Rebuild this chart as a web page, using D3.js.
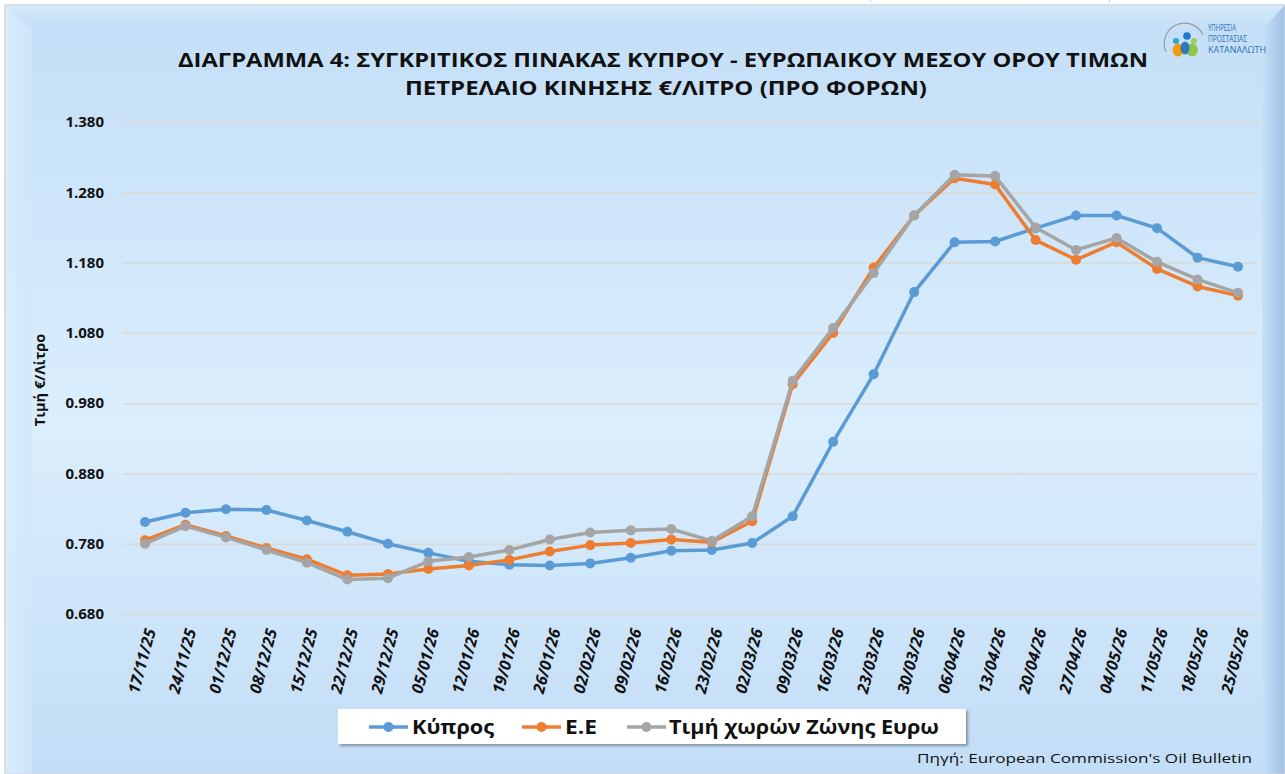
<!DOCTYPE html>
<html><head><meta charset="utf-8">
<script src="https://cdn.jsdelivr.net/npm/d3@7"></script>
<style>
html,body{margin:0;padding:0;background:#fff;}
svg{display:block;}
text{font-family:"Open Sans","Noto Sans",sans-serif;}
</style></head>
<body>
<svg id="c" width="1285" height="774"></svg>
<script>
const dates = ["17/11/25","24/11/25","01/12/25","08/12/25","15/12/25","22/12/25","29/12/25","05/01/26","12/01/26","19/01/26","26/01/26","02/02/26","09/02/26","16/02/26","23/02/26","02/03/26","09/03/26","16/03/26","23/03/26","30/03/26","06/04/26","13/04/26","20/04/26","27/04/26","04/05/26","11/05/26","18/05/26","25/05/26"];
const cyprus = [0.811,0.824,0.829,0.828,0.813,0.797,0.780,0.767,0.755,0.750,0.749,0.752,0.760,0.770,0.771,0.781,0.819,0.925,1.021,1.138,1.209,1.210,1.229,1.247,1.247,1.229,1.187,1.174];
const eu = [0.785,0.807,0.791,0.774,0.758,0.735,0.737,0.744,0.749,0.757,0.769,0.778,0.781,0.786,0.782,0.812,1.007,1.080,1.173,1.247,1.300,1.291,1.212,1.184,1.209,1.171,1.146,1.133];
const euroZone = [0.780,0.805,0.789,0.771,0.753,0.729,0.731,0.755,0.761,0.771,0.786,0.796,0.799,0.801,0.784,0.819,1.012,1.087,1.165,1.247,1.305,1.303,1.230,1.198,1.215,1.181,1.156,1.137];
const yTicks = [0.680,0.780,0.880,0.980,1.080,1.180,1.280,1.380];
const seriesNames = ["Κύπρος","Ε.Ε","Τιμή χωρών Ζώνης Ευρω"];
const colors = ["#5b9bd5","#ed7d31","#a5a5a5"];
const titleLines = ["ΔΙΑΓΡΑΜΜΑ 4: ΣΥΓΚΡΙΤΙΚΟΣ ΠΙΝΑΚΑΣ ΚΥΠΡΟΥ - ΕΥΡΩΠΑΙΚΟΥ ΜΕΣΟΥ ΟΡΟΥ ΤΙΜΩΝ","ΠΕΤΡΕΛΑΙΟ ΚΙΝΗΣΗΣ €/ΛΙΤΡΟ (ΠΡΟ ΦΟΡΩΝ)"];
const yTitle = "Τιμή €/Λίτρο";
const source = "Πηγή: European Commission's Oil Bulletin";
const logoLines = ["ΥΠΗΡΕΣΙΑ","ΠΡΟΣΤΑΣΙΑΣ","ΚΑΤΑΝΑΛΩΤΗ"];

const svg = d3.select("#c");
const defs = svg.append("defs");
const bg = defs.append("linearGradient").attr("id","bg").attr("x1",0).attr("y1",0).attr("x2",0).attr("y2",1);
bg.append("stop").attr("offset","0%").attr("stop-color","#c3def7");
bg.append("stop").attr("offset","55%").attr("stop-color","#dbeefd");
bg.append("stop").attr("offset","100%").attr("stop-color","#c2ddf6");
const rg = defs.append("linearGradient").attr("id","rb").attr("x1",0).attr("y1",0).attr("x2",1).attr("y2",0);
rg.append("stop").attr("offset","0%").attr("stop-color","#c6e0f7");
rg.append("stop").attr("offset","100%").attr("stop-color","#9fc2e4");
const lg = defs.append("linearGradient").attr("id","lb").attr("x1",0).attr("y1",0).attr("x2",1).attr("y2",0);
lg.append("stop").attr("offset","0%").attr("stop-color","#dcedfb");
lg.append("stop").attr("offset","100%").attr("stop-color","#cfe6fa");
const tg = defs.append("linearGradient").attr("id","tb").attr("x1",0).attr("y1",0).attr("x2",0).attr("y2",1);
tg.append("stop").attr("offset","0%").attr("stop-color","#d6eafb");
tg.append("stop").attr("offset","100%").attr("stop-color","#c4dff7");
const sh = defs.append("filter").attr("id","sh").attr("x","-5%").attr("y","-20%").attr("width","110%").attr("height","150%");
sh.append("feDropShadow").attr("dx",2).attr("dy",2).attr("stdDeviation",1.5).attr("flood-color","#000").attr("flood-opacity",0.35);

// frame
svg.append("rect").attr("x",5).attr("y",5).attr("width",1280).attr("height",769).attr("fill","url(#bg)").attr("stroke","#d0d0d0");
svg.append("polygon").attr("points","5,5 1285,5 1262,30 32,30").attr("fill","url(#tb)").attr("opacity",0.9);
svg.append("polygon").attr("points","5,5 32,30 32,774 5,774").attr("fill","url(#lb)").attr("opacity",0.9);
svg.append("polygon").attr("points","1262,30 1285,5 1285,774 1262,774").attr("fill","url(#rb)");
svg.append("rect").attr("x",5).attr("y",5).attr("width",1280).attr("height",769).attr("fill","none").attr("stroke","#d6d6d6").attr("stroke-width",1);
svg.append("line").attr("x1",870).attr("x2",1110).attr("y1",1).attr("y2",1).attr("stroke","#9cc3e6").attr("stroke-width",1.5).attr("stroke-dasharray","1,238,1");

const x = d3.scalePoint().domain(dates).range([145,1238]);
const y = d3.scaleLinear().domain([0.68,1.38]).range([614,122]);

// gridlines + y labels
const yAxis = d3.axisLeft(y).tickValues(yTicks).tickFormat(d3.format(".3f")).tickSize(-(1258-123)).tickPadding(19);
const ga = svg.append("g").attr("transform","translate(123,0)").call(yAxis);
ga.select(".domain").remove();
ga.selectAll(".tick line").attr("stroke","#dcd8d2").attr("stroke-width",1.5);
ga.selectAll(".tick text").attr("font-size",15).attr("font-weight","bold").attr("fill","#111").attr("font-family","Open Sans");

// x labels
const xAxis = d3.axisBottom(x).tickSize(0).tickPadding(0);
const gx = svg.append("g").attr("transform","translate(0,626)").call(xAxis);
gx.select(".domain").remove();
gx.selectAll(".tick text")
  .attr("font-size",16).attr("font-weight","bold").attr("font-style","italic").attr("fill","#111")
  .attr("font-family","Open Sans")
  .attr("text-anchor","end").attr("dy","0.35em")
  .attr("transform","translate(5,3) rotate(-75)");

// lines
const allSeries = [cyprus, eu, euroZone];
const line = d3.line().x((d,i)=>x(dates[i])).y(d=>y(d));
[0,1,2].forEach(k=>{
  const data = allSeries[k];
  svg.append("path").datum(data).attr("d",line).attr("fill","none")
    .attr("stroke",colors[k]).attr("stroke-width",3.5).attr("stroke-linejoin","round");
  svg.append("g").selectAll("circle").data(data).join("circle")
    .attr("cx",(d,i)=>x(dates[i])).attr("cy",d=>y(d)).attr("r",5).attr("fill",colors[k]);
});

// title
const tt = svg.append("g");
tt.append("text").attr("x",663).attr("y",67).attr("text-anchor","middle").attr("font-size",19).attr("font-weight","bold")
  .attr("fill","#111").attr("textLength",970).attr("lengthAdjust","spacingAndGlyphs").text(titleLines[0]);
tt.append("text").attr("x",666).attr("y",95).attr("text-anchor","middle").attr("font-size",19).attr("font-weight","bold")
  .attr("fill","#111").attr("textLength",522).attr("lengthAdjust","spacingAndGlyphs").text(titleLines[1]);

// y title
svg.append("text").attr("transform","translate(45,380) rotate(-90)").attr("text-anchor","middle")
  .attr("font-size",14.5).attr("font-weight","bold").attr("fill","#111").text(yTitle);

// legend
const lgG = svg.append("g");
lgG.append("rect").attr("x",338).attr("y",709).attr("width",628).attr("height",35).attr("fill","#fff").attr("filter","url(#sh)");
const legX = [369, 522, 627];
const legTextX = [412, 565, 669];
const legW = [82, 32, 270];
[0,1,2].forEach(k=>{
  lgG.append("line").attr("x1",legX[k]).attr("x2",legX[k]+39).attr("y1",727).attr("y2",727).attr("stroke",colors[k]).attr("stroke-width",3.5);
  lgG.append("circle").attr("cx",legX[k]+19.5).attr("cy",727).attr("r",5).attr("fill",colors[k]);
  lgG.append("text").attr("x",legTextX[k]).attr("y",734).attr("font-size",19).attr("font-weight","bold").attr("fill","#111")
    .attr("textLength",legW[k]).attr("lengthAdjust","spacingAndGlyphs").text(seriesNames[k]);
});

// source
svg.append("text").attr("x",1252).attr("y",763).attr("text-anchor","end").attr("font-size",13.5).attr("fill","#111")
  .attr("textLength",335).attr("lengthAdjust","spacingAndGlyphs").text(source);

// logo
const lgo = svg.append("g");
lgo.append("path").attr("d","M1166,52 A19,19 0 0 1 1203,35").attr("fill","none").attr("stroke","#9a9a9a").attr("stroke-width",1.2);
lgo.append("ellipse").attr("cx",1178).attr("cy",50).attr("rx",5.5).attr("ry",6.5).attr("fill","#f39c12");
lgo.append("ellipse").attr("cx",1192).attr("cy",50).attr("rx",6).attr("ry",6.5).attr("fill","#8cc63f").attr("opacity",0.95);
lgo.append("ellipse").attr("cx",1185).attr("cy",48).attr("rx",4.5).attr("ry",6.5).attr("fill","#1f6fc0").attr("opacity",0.9);
lgo.append("circle").attr("cx",1176).attr("cy",41).attr("r",3).attr("fill","#2ea3dc");
lgo.append("circle").attr("cx",1187).attr("cy",36).attr("r",3.8).attr("fill","#1f77c9");
lgo.append("circle").attr("cx",1194).attr("cy",41).attr("r",3).attr("fill","#9ad05a");
const logoW = [28, 39, 58];
logoLines.forEach((t,i)=>{
  lgo.append("text").attr("x",1208).attr("y",31+i*11.2).attr("font-size",8.8).attr("fill","#2a6fb5")
    .attr("font-family","DejaVu Sans Condensed, DejaVu Sans, sans-serif")
    .attr("textLength",logoW[i]).attr("lengthAdjust","spacingAndGlyphs").text(t);
});
</script>
</body></html>
